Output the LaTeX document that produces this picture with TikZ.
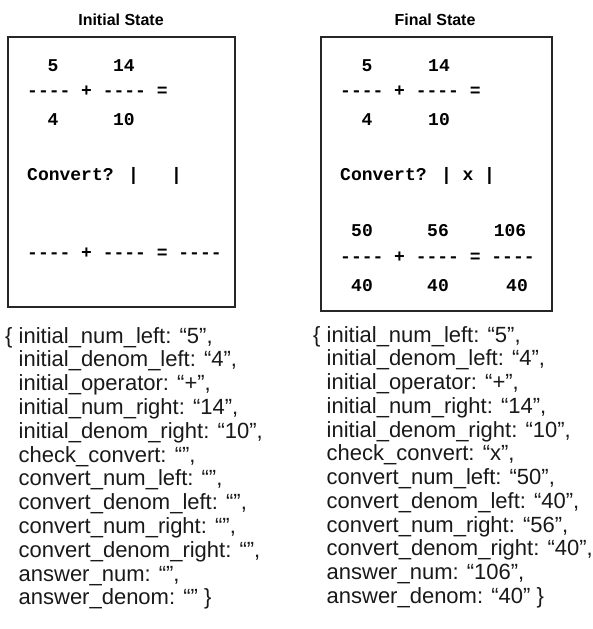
\documentclass[tikz,border=0pt]{standalone}
\usepackage{fontspec}
\newfontfamily\sansf{Liberation Sans}
\newfontfamily\monob{Liberation Mono}[BoldFont={Liberation Mono Bold}]
\begin{document}
\begin{tikzpicture}[x=1pt,y=-1pt,
  panel/.style={draw=black!85,line width=1.6pt},
  title/.style={anchor=base,inner sep=0pt,font=\sansf\bfseries\fontsize{16}{19}\selectfont},
  mono/.style={anchor=base,inner sep=0pt,font=\monob\bfseries\fontsize{18}{20}\selectfont},
  monow/.style={mono,anchor=base west},
  json/.style={anchor=base west,inner sep=0pt,font=\sansf\fontsize{22}{24}\selectfont,text=black!90}]
\useasboundingbox (0,0) rectangle (593,629);
% titles
\node[title] (t1) at (121,25) {Initial State};
\node[title] (t2) at (435,25) {Final State};
% panels
\draw[panel] (8,37) rectangle (235,307);
\draw[panel] (321,37) rectangle (552,311);
% left panel
\node[mono] (la) at (53,71) {5};
\node[mono] (lb) at (124,71) {14};
\node[monow] (lc) at (27,96) {---- + ---- =};
\node[mono] (ld) at (53,125) {4};
\node[mono] (le) at (124,125) {10};
\node[monow] (lf) at (27,180) {Convert? |\hphantom{xxx}|};
\node[monow] (lg) at (27,258) {---- + ---- = ----};
% right panel
\node[mono] (ra) at (367,71) {5};
\node[mono] (rb) at (439,71) {14};
\node[monow] (rc) at (340,96) {---- + ---- =};
\node[mono] (rd) at (367,125) {4};
\node[mono] (re) at (439,125) {10};
\node[monow] (rf) at (340,180) {Convert? | x |};
\node[mono] (rg) at (362,236) {50};
\node[mono] (rh) at (438,236) {56};
\node[mono] (ri) at (510,236) {106};
\node[monow] (rj) at (340,262) {---- + ---- = ----};
\node[mono] (rk) at (362,291) {40};
\node[mono] (rl) at (438,291) {40};
\node[mono] (rm) at (517,291) {40};
% left json
\foreach \t [count=\i] in {
  {\{ initial\_num\_left: “5”,},
  {\hphantom{\{ }initial\_denom\_left: “4”,},
  {\hphantom{\{ }initial\_operator: “+”,},
  {\hphantom{\{ }initial\_num\_right: “14”,},
  {\hphantom{\{ }initial\_denom\_right: “10”,},
  {\hphantom{\{ }check\_convert: “”,},
  {\hphantom{\{ }convert\_num\_left: “”,},
  {\hphantom{\{ }convert\_denom\_left: “”,},
  {\hphantom{\{ }convert\_num\_right: “”,},
  {\hphantom{\{ }convert\_denom\_right: “”,},
  {\hphantom{\{ }answer\_num: “”,},
  {\hphantom{\{ }answer\_denom: “” \}}}
  \node[json] (jl\i) at (5,{343+23.8*(\i-1)}) {\t};
% right json
\foreach \t [count=\i] in {
  {\{ initial\_num\_left: “5”,},
  {\hphantom{\{ }initial\_denom\_left: “4”,},
  {\hphantom{\{ }initial\_operator: “+”,},
  {\hphantom{\{ }initial\_num\_right: “14”,},
  {\hphantom{\{ }initial\_denom\_right: “10”,},
  {\hphantom{\{ }check\_convert: “x”,},
  {\hphantom{\{ }convert\_num\_left: “50”,},
  {\hphantom{\{ }convert\_denom\_left: “40”,},
  {\hphantom{\{ }convert\_num\_right: “56”,},
  {\hphantom{\{ }convert\_denom\_right: “40”,},
  {\hphantom{\{ }answer\_num: “106”,},
  {\hphantom{\{ }answer\_denom: “40” \}}}
  \node[json] (jr\i) at (313,{342+23.75*(\i-1)}) {\t};
\end{tikzpicture}
\end{document}
